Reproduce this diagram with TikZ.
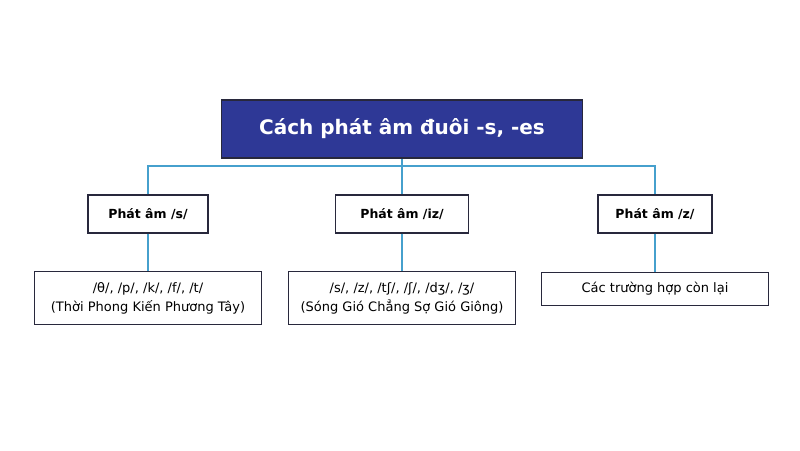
\documentclass[tikz,border=0pt]{standalone}
\usepackage{fontspec}
\setmainfont{DejaVu Sans}
\definecolor{titleblue}{RGB}{46,56,150}
\definecolor{linkblue}{RGB}{70,160,205}
\definecolor{edgegray}{RGB}{40,40,60}
\tikzset{
  titlebox/.style={draw=edgegray,line width=1.5pt,fill=titleblue,text=white,font=\bfseries\fontsize{20}{24}\selectfont,minimum width=361pt,minimum height=58pt},
  kindbox/.style={draw=edgegray,line width=1.2pt,fill=white,font=\bfseries\fontsize{12.5}{15}\selectfont,minimum height=38pt},
  soundbox/.style={draw=edgegray,line width=1.2pt,fill=white,font=\fontsize{13}{19}\selectfont,align=center,minimum width=227pt,inner sep=1pt},
  link/.style={linkblue,line width=1.3pt}
}
\begin{document}
\begin{tikzpicture}[x=1pt,y=-1pt]
  \useasboundingbox (0,0) rectangle (800,450);

  \node[titlebox] (title) at (402,129) {Cách phát âm đuôi -s, -es};

  \node[kindbox,minimum width=120pt] (ks) at (148,214) {Phát âm /s/};
  \node[kindbox,minimum width=133pt] (kiz) at (402,214) {Phát âm /iz/};
  \node[kindbox,minimum width=114pt] (kz) at (655,214) {Phát âm /z/};

  \node[soundbox,minimum height=53pt] (ss) at (148,298) {/θ/, /p/, /k/, /f/, /t/\\(Thời Phong Kiến Phương Tây)};
  \node[soundbox,minimum height=53pt] (siz) at (402,298) {/s/, /z/, /tʃ/, /ʃ/, /dʒ/, /ʒ/\\(Sóng Gió Chẳng Sợ Gió Giông)};
  \node[soundbox,minimum height=33pt] (sz) at (655,289) {Các trường hợp còn lại};

  \coordinate (hub) at (402,166);
  \draw[link] (title) -- (hub);
  \draw[link] (ks.north) |- (hub) -| (kz.north);
  \draw[link] (hub) -- (kiz);
  \foreach \a/\b in {ks/ss,kiz/siz,kz/sz}
    \draw[link] (\a) -- (\b);
\end{tikzpicture}
\end{document}
